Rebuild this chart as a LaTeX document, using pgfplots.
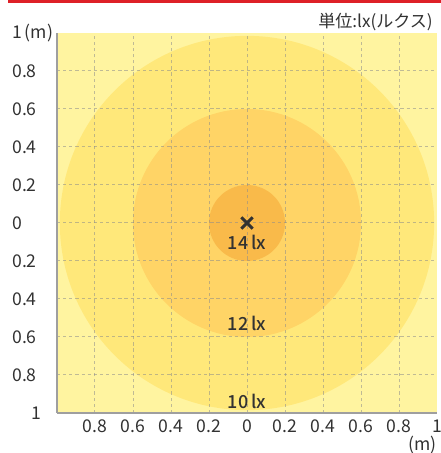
\documentclass[border=0pt]{standalone}
\usepackage{fontspec}
\setmainfont{Noto Sans CJK JP}
\newfontfamily\medfont{Noto Sans CJK JP Medium}
\usepackage{pgfplots}
\pgfplotsset{compat=1.18}
\definecolor{bgY}{RGB}{255,244,160}
\definecolor{c10}{RGB}{255,232,122}
\definecolor{c12}{RGB}{255,212,102}
\definecolor{c14}{RGB}{249,186,74}
\definecolor{redline}{RGB}{222,32,40}
\definecolor{txt}{RGB}{50,50,50}
\definecolor{gridc}{RGB}{140,140,140}
\begin{document}
\begin{tikzpicture}[x=0.75pt,y=0.75pt]
\path[use as bounding box] (-57,-40) rectangle (384,413);
\fill[redline] (-49,410) rectangle (384,413);
\begin{axis}[
  at={(0,0)}, anchor=south west,
  scale only axis, width=285pt, height=285pt,
  xmin=-1, xmax=1, ymin=-1, ymax=1,
  axis on top,
  axis background/.style={fill=bgY},
  axis x line=bottom, axis y line=left,
  axis line style={-, draw=gray!75, line width=1pt},
  xtick={-0.8,-0.6,-0.4,-0.2,0,0.2,0.4,0.6,0.8,1},
  xticklabels={0.8,0.6,0.4,0.2,0,0.2,0.4,0.6,0.8,1},
  ytick={-1,-0.8,-0.6,-0.4,-0.2,0,0.2,0.4,0.6,0.8,1},
  yticklabels={{\hspace*{14.25pt}1},0.8,0.6,0.4,0.2,0,0.2,0.4,0.6,0.8,{1\,(m)}},
  minor xtick={-0.8,-0.6,-0.4,-0.2,0,0.2,0.4,0.6,0.8},
  minor ytick={-0.8,-0.6,-0.4,-0.2,0,0.2,0.4,0.6,0.8},
  major tick length=0pt, minor tick length=0pt,
  grid=minor,
  minor grid style={draw=gridc, draw opacity=0.55, line width=0.75pt, dash pattern=on 2.4pt off 2.2pt},
  /pgf/number format/assume math mode=true,
  tick label style={font=\fontsize{13.2}{15}\selectfont, text=txt},
  xticklabel style={yshift=-1.5pt},
  yticklabel style={anchor=west, inner sep=0pt, xshift=-33.75pt},
  clip=true,
]
\fill[c10] (axis cs:0,0) circle[radius=0.985];
\fill[c12] (axis cs:0,0) circle[radius=0.6];
\fill[c14] (axis cs:0,0) circle[radius=0.2];
\addplot[only marks, mark=x, mark size=6pt, mark options={line width=2.2pt, draw=txt}] coordinates {(0,0)};
\node[font=\fontsize{13.5}{15}\selectfont\medfont, text=txt] at (axis cs:0,-0.105) {14\,lx};
\node[font=\fontsize{13.5}{15}\selectfont\medfont, text=txt] at (axis cs:0,-0.53) {12\,lx};
\node[font=\fontsize{13.5}{15}\selectfont\medfont, text=txt] at (axis cs:0,-0.94) {10\,lx};
\end{axis}
\node[anchor=north east, inner sep=0pt, font=\fontsize{13.2}{15}\selectfont, text=txt] at (380,-23) {(m)};
\node[anchor=east, inner sep=0pt, font=\fontsize{12.8}{14}\selectfont, text=txt] at (376,391) {単位:lx(ルクス)};
\end{tikzpicture}
\end{document}
